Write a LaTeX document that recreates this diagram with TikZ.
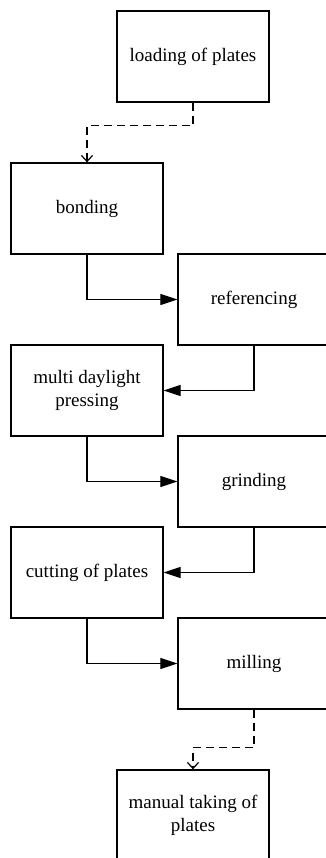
\documentclass[tikz,border=0pt]{standalone}
\usepackage{fontspec}
\setmainfont{Liberation Serif}
\usetikzlibrary{arrows.meta}
\begin{document}
\begin{tikzpicture}[x=1pt,y=-1pt,
  stepbox/.style={draw=black, line width=1.3pt, fill=white, minimum width=152pt, minimum height=91pt, inner sep=0pt, align=center, font=\fontsize{19}{23}\selectfont, anchor=center},
  solidarrow/.style={line width=1.2pt, -{Triangle[length=17pt,width=11pt]}},
  dasharrow/.style={line width=1.2pt, dash pattern=on 8pt off 5pt, -{Straight Barb[length=6pt,width=11pt]}}
]
\useasboundingbox (0,0) rectangle (326,858);
\node[stepbox] (load) at (193,56.5) {loading of plates};
\node[stepbox] (bond) at (87,208.5) {bonding};
\node[stepbox] (ref) at (254,299.5) {referencing};
\node[stepbox] (multi) at (87,390.5) {multi daylight\\pressing};
\node[stepbox] (grind) at (254,481.5) {grinding};
\node[stepbox] (cut) at (87,572.5) {cutting of plates};
\node[stepbox] (mill) at (254,663.5) {milling};
\node[stepbox] (manual) at (193,815.5) {manual taking of\\plates};
\draw[dasharrow] (load.south) -- ++(0,23) -| (bond.north);
\draw[solidarrow] (bond.south) |- (ref.west);
\draw[solidarrow] (ref.south) |- (multi.east);
\draw[solidarrow] (multi.south) |- (grind.west);
\draw[solidarrow] (grind.south) |- (cut.east);
\draw[solidarrow] (cut.south) |- (mill.west);
\draw[dasharrow] (mill.south) -- ++(0,38) -| (manual.north);
\end{tikzpicture}
\end{document}
